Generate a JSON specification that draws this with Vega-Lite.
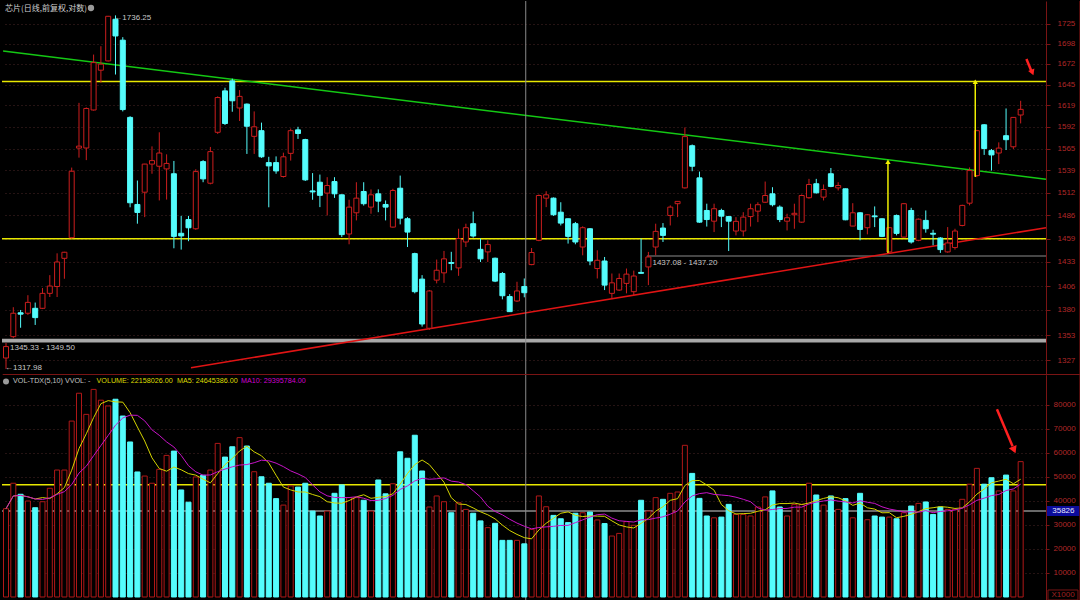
{
"$schema": "https://vega.github.io/schema/vega-lite/v6.json",
"background": "#000000",
"padding": 0,
"spacing": 0,
"bounds": "flush",
"config": {"view": {"stroke": null}, "text": {"font": "Liberation Sans"}},
"datasets": {
"k": [
{"i":0,"o":1329.3,"h":1345,"l":1317.98,"c":1341.2,"v":36800},
{"i":1,"o":1351.6,"h":1383,"l":1350,"c":1376.5,"v":47400},
{"i":2,"o":1377,"h":1380,"l":1361,"c":1375.5,"v":42800},
{"i":3,"o":1376.5,"h":1396,"l":1374.7,"c":1388.2,"v":40000},
{"i":4,"o":1381.8,"h":1388,"l":1364,"c":1371.8,"v":37200},
{"i":5,"o":1381.8,"h":1403.8,"l":1381,"c":1398,"v":39700},
{"i":6,"o":1398,"h":1418,"l":1394,"c":1406,"v":45300},
{"i":7,"o":1405.5,"h":1442.3,"l":1394,"c":1432.6,"v":52900},
{"i":8,"o":1436.7,"h":1444,"l":1414,"c":1443.5,"v":52900},
{"i":9,"o":1460,"h":1542,"l":1459,"c":1537.6,"v":73300},
{"i":10,"o":1565.6,"h":1621.8,"l":1554,"c":1568,"v":84900},
{"i":11,"o":1565.7,"h":1616,"l":1551,"c":1614.7,"v":76100},
{"i":12,"o":1612.8,"h":1684,"l":1612,"c":1673.5,"v":86500},
{"i":13,"o":1663.6,"h":1695,"l":1647.5,"c":1671.4,"v":82000},
{"i":14,"o":1675.7,"h":1735.5,"l":1675,"c":1735,"v":79600},
{"i":15,"o":1731,"h":1736.25,"l":1658,"c":1708.6,"v":82400},
{"i":16,"o":1703,"h":1707,"l":1611,"c":1613.3,"v":75400},
{"i":17,"o":1603.5,"h":1605,"l":1495,"c":1500.3,"v":64600},
{"i":18,"o":1498.3,"h":1526.5,"l":1476,"c":1489,"v":52100},
{"i":19,"o":1512.7,"h":1546.5,"l":1483.6,"c":1546.2,"v":50400},
{"i":20,"o":1546.2,"h":1567.7,"l":1534.6,"c":1550.4,"v":47400},
{"i":21,"o":1543.6,"h":1585,"l":1503,"c":1559.6,"v":53200},
{"i":22,"o":1540.4,"h":1558,"l":1504,"c":1547,"v":59000},
{"i":23,"o":1534.6,"h":1550,"l":1448,"c":1461.5,"v":60800},
{"i":24,"o":1465,"h":1485,"l":1446.5,"c":1462,"v":44600},
{"i":25,"o":1480.8,"h":1485,"l":1456,"c":1471.3,"v":39500},
{"i":26,"o":1470.2,"h":1540,"l":1469,"c":1537.2,"v":50000},
{"i":27,"o":1549.2,"h":1551,"l":1524.5,"c":1528.5,"v":50700},
{"i":28,"o":1523.3,"h":1567,"l":1522,"c":1561.3,"v":52900},
{"i":29,"o":1585,"h":1630,"l":1583,"c":1628.5,"v":64000},
{"i":30,"o":1637,"h":1641,"l":1594,"c":1595.9,"v":58300},
{"i":31,"o":1649.8,"h":1652.7,"l":1610.6,"c":1624.4,"v":62600},
{"i":32,"o":1615.3,"h":1638,"l":1599,"c":1630,"v":66400},
{"i":33,"o":1620.2,"h":1621,"l":1558.5,"c":1592.5,"v":62900},
{"i":34,"o":1580,"h":1611,"l":1558.5,"c":1591.8,"v":52200},
{"i":35,"o":1587,"h":1597,"l":1553.7,"c":1555,"v":50100},
{"i":36,"o":1548,"h":1555,"l":1495,"c":1544,"v":47400},
{"i":37,"o":1548,"h":1555.5,"l":1534.6,"c":1538,"v":41000},
{"i":38,"o":1531.3,"h":1560,"l":1530,"c":1555,"v":38300},
{"i":39,"o":1559.2,"h":1589.6,"l":1550.4,"c":1587,"v":46300},
{"i":40,"o":1588,"h":1591.8,"l":1576.8,"c":1583.5,"v":45800},
{"i":41,"o":1576,"h":1577,"l":1526,"c":1527.3,"v":47400},
{"i":42,"o":1514.2,"h":1535.4,"l":1503.8,"c":1513,"v":35800},
{"i":43,"o":1524.5,"h":1533.6,"l":1495.2,"c":1509,"v":33750},
{"i":44,"o":1511.6,"h":1530.5,"l":1485.5,"c":1520.6,"v":35800},
{"i":45,"o":1525.3,"h":1530.5,"l":1506,"c":1510.8,"v":43200},
{"i":46,"o":1509.6,"h":1510,"l":1460.7,"c":1463.5,"v":46700},
{"i":47,"o":1464.2,"h":1503.8,"l":1452.5,"c":1495.2,"v":41400},
{"i":48,"o":1488.6,"h":1524.5,"l":1479.8,"c":1505.7,"v":41400},
{"i":49,"o":1513.5,"h":1524.5,"l":1497,"c":1499.2,"v":40300},
{"i":50,"o":1495.2,"h":1516,"l":1487.5,"c":1509.6,"v":35800},
{"i":51,"o":1510.8,"h":1516,"l":1489.3,"c":1502.2,"v":48750},
{"i":52,"o":1498.3,"h":1503,"l":1479.8,"c":1495.2,"v":43000},
{"i":53,"o":1472.1,"h":1516.7,"l":1471.4,"c":1514.7,"v":47200},
{"i":54,"o":1517.4,"h":1532.4,"l":1475.2,"c":1482.4,"v":60500},
{"i":55,"o":1481.7,"h":1483.6,"l":1449.4,"c":1466.4,"v":57800},
{"i":56,"o":1442,"h":1443,"l":1398,"c":1399.8,"v":67400},
{"i":57,"o":1413.6,"h":1418,"l":1362.2,"c":1365,"v":52500},
{"i":58,"o":1360.5,"h":1401.6,"l":1358.7,"c":1400.6,"v":37500},
{"i":59,"o":1412.5,"h":1435.3,"l":1408.9,"c":1423.4,"v":42100},
{"i":60,"o":1420.5,"h":1445,"l":1409.5,"c":1436.1,"v":39700},
{"i":61,"o":1432,"h":1444,"l":1423.4,"c":1431,"v":35100},
{"i":62,"o":1426,"h":1470.2,"l":1417.2,"c":1459,"v":39300},
{"i":63,"o":1455.1,"h":1476,"l":1449.4,"c":1471.4,"v":36500},
{"i":64,"o":1476,"h":1490,"l":1460,"c":1461.9,"v":34900},
{"i":65,"o":1446.8,"h":1459,"l":1432.6,"c":1436.1,"v":31700},
{"i":66,"o":1443.9,"h":1457,"l":1432.6,"c":1452.2,"v":28900},
{"i":67,"o":1436.8,"h":1437.5,"l":1410.3,"c":1411.4,"v":30700},
{"i":68,"o":1419.8,"h":1421.5,"l":1391.5,"c":1395.4,"v":23600},
{"i":69,"o":1394.5,"h":1397.2,"l":1378,"c":1378.2,"v":23600},
{"i":70,"o":1389.7,"h":1410.7,"l":1388.6,"c":1400.6,"v":23600},
{"i":71,"o":1405.5,"h":1414.3,"l":1393.7,"c":1398.7,"v":22158},
{"i":72,"o":1429.7,"h":1448.3,"l":1429,"c":1443.2,"v":28200},
{"i":73,"o":1457,"h":1510,"l":1456,"c":1508.8,"v":42100},
{"i":74,"o":1505.7,"h":1513.8,"l":1495.2,"c":1509.6,"v":37600},
{"i":75,"o":1505.7,"h":1506.5,"l":1485,"c":1486.3,"v":34000},
{"i":76,"o":1489.3,"h":1500.9,"l":1474,"c":1476.7,"v":32600},
{"i":77,"o":1481.7,"h":1482,"l":1453.3,"c":1461.5,"v":31000},
{"i":78,"o":1476,"h":1478,"l":1452.5,"c":1455.1,"v":34900},
{"i":79,"o":1449.4,"h":1473,"l":1440.1,"c":1471.4,"v":35100},
{"i":80,"o":1470.2,"h":1471,"l":1429,"c":1433.7,"v":35400},
{"i":81,"o":1425.3,"h":1445.7,"l":1414.3,"c":1434.5,"v":32100},
{"i":82,"o":1433.7,"h":1438.2,"l":1401.6,"c":1407,"v":30600},
{"i":83,"o":1398,"h":1419.8,"l":1392.6,"c":1409.5,"v":25400},
{"i":84,"o":1401.6,"h":1419.8,"l":1400.6,"c":1414.3,"v":26500},
{"i":85,"o":1408.9,"h":1425.3,"l":1398,"c":1419.1,"v":31400},
{"i":86,"o":1399.8,"h":1423,"l":1396,"c":1417,"v":29900},
{"i":87,"o":1421,"h":1459,"l":1419.8,"c":1420,"v":40300},
{"i":88,"o":1427.1,"h":1443.9,"l":1407,"c":1438.2,"v":35800},
{"i":89,"o":1449.4,"h":1476,"l":1440.1,"c":1467.2,"v":41400},
{"i":90,"o":1471,"h":1476.7,"l":1455.1,"c":1462.6,"v":40700},
{"i":91,"o":1485.5,"h":1497.2,"l":1474,"c":1495.2,"v":43200},
{"i":92,"o":1499.2,"h":1502,"l":1483.6,"c":1501.9,"v":43750},
{"i":93,"o":1517.8,"h":1591,"l":1517,"c":1579.7,"v":63200},
{"i":94,"o":1568.5,"h":1570,"l":1537.6,"c":1543.6,"v":51500},
{"i":95,"o":1529.7,"h":1537.2,"l":1477,"c":1477.8,"v":41100},
{"i":96,"o":1491.3,"h":1499.2,"l":1472.7,"c":1480.8,"v":33750},
{"i":97,"o":1478.9,"h":1499.2,"l":1466.4,"c":1493.3,"v":33000},
{"i":98,"o":1491.3,"h":1493.3,"l":1472.1,"c":1484.7,"v":33300},
{"i":99,"o":1484.2,"h":1485,"l":1444.9,"c":1478.9,"v":38600},
{"i":100,"o":1467.6,"h":1483.6,"l":1462.6,"c":1478.7,"v":34400},
{"i":101,"o":1467.6,"h":1489.3,"l":1461.5,"c":1483.6,"v":34400},
{"i":102,"o":1484.2,"h":1499.2,"l":1472.7,"c":1493.3,"v":33750},
{"i":103,"o":1490.5,"h":1500.9,"l":1477.8,"c":1498,"v":37500},
{"i":104,"o":1500.9,"h":1525.3,"l":1500,"c":1508.8,"v":41700},
{"i":105,"o":1510.8,"h":1518.6,"l":1496,"c":1498,"v":44200},
{"i":106,"o":1495.2,"h":1497.2,"l":1477.8,"c":1480.8,"v":37500},
{"i":107,"o":1478.9,"h":1487.5,"l":1468.3,"c":1482.9,"v":33750},
{"i":108,"o":1486.3,"h":1499.2,"l":1470.2,"c":1488,"v":38600},
{"i":109,"o":1477.8,"h":1510,"l":1477,"c":1508.8,"v":38600},
{"i":110,"o":1506.2,"h":1528.5,"l":1505,"c":1521.8,"v":47400},
{"i":111,"o":1522.7,"h":1528.5,"l":1511,"c":1512,"v":42500},
{"i":112,"o":1506.9,"h":1521.8,"l":1503,"c":1515.9,"v":38300},
{"i":113,"o":1534.6,"h":1541.5,"l":1518.6,"c":1519.5,"v":42100},
{"i":114,"o":1517.8,"h":1524.5,"l":1514.7,"c":1520.6,"v":36500},
{"i":115,"o":1516.7,"h":1517,"l":1480,"c":1480.5,"v":41000},
{"i":116,"o":1473.3,"h":1499.8,"l":1473,"c":1488.6,"v":33000},
{"i":117,"o":1488.6,"h":1489.3,"l":1457,"c":1469.4,"v":43200},
{"i":118,"o":1471.4,"h":1487,"l":1463.8,"c":1486.3,"v":32200},
{"i":119,"o":1485,"h":1496,"l":1472.1,"c":1484,"v":33750},
{"i":120,"o":1481.7,"h":1482,"l":1460.7,"c":1461.5,"v":33300},
{"i":121,"o":1443.9,"h":1472,"l":1442.8,"c":1471.4,"v":33300},
{"i":122,"o":1485.5,"h":1486.6,"l":1462.6,"c":1464.9,"v":32600},
{"i":123,"o":1460.7,"h":1500,"l":1460,"c":1499.2,"v":35100},
{"i":124,"o":1491.3,"h":1494.4,"l":1453.3,"c":1455.1,"v":37900},
{"i":125,"o":1457,"h":1482,"l":1456,"c":1481.2,"v":39000},
{"i":126,"o":1479.8,"h":1491.3,"l":1465.7,"c":1470.2,"v":39600},
{"i":127,"o":1465,"h":1469,"l":1451.4,"c":1464,"v":34400},
{"i":128,"o":1459.6,"h":1460.7,"l":1442.8,"c":1446.5,"v":37500},
{"i":129,"o":1443.9,"h":1472.1,"l":1443,"c":1454,"v":36500},
{"i":130,"o":1448.8,"h":1470.2,"l":1446.5,"c":1467.6,"v":36500},
{"i":131,"o":1474,"h":1498,"l":1473,"c":1497.2,"v":40700},
{"i":132,"o":1499.8,"h":1542.2,"l":1497.2,"c":1538.4,"v":47000},
{"i":133,"o":1532.4,"h":1588,"l":1530.5,"c":1587,"v":53600},
{"i":134,"o":1594.3,"h":1595,"l":1557.3,"c":1565.1,"v":47000},
{"i":135,"o":1562.5,"h":1564.5,"l":1538.4,"c":1557.3,"v":49700},
{"i":136,"o":1559.6,"h":1572.6,"l":1546.2,"c":1565.6,"v":44200},
{"i":137,"o":1580.8,"h":1614.7,"l":1563.3,"c":1575.9,"v":50800},
{"i":138,"o":1567.2,"h":1604,"l":1564.5,"c":1603.5,"v":44200},
{"i":139,"o":1606.5,"h":1624.4,"l":1596,"c":1613.6,"v":56400}
],
"levels": [{"p":1649.0},{"p":1458.9}],
"band": [{"p0":1345.33,"p1":1349.5}],
"seg": [{"i0":87.8,"i1":142.47,"p":1439.3}],
"trendG": [{"i":-0.4,"p":1688.6},{"i":142.47,"p":1528.0}],
"trendR": [{"i":25.34,"p":1319.3},{"i":142.47,"p":1471.4}],
"arrows": [{"i":120.82,"p0":1442.8,"p1":1549.0},{"i":132.78,"p0":1530.7,"p1":1648.7}],
"cross": [{"i":71.2}],
"border": [{"i":147.1}],
"sep": [{"i0":-0.45,"i1":147.4,"p":1312.3}],
"redArrowP": [{"i0":139.79,"p0":1678.2,"i1":140.45,"p1":1663.0,"hi":140.6,"hp":1660.6}],
"ptext": [
{"i":14.84,"p":1733.1,"t":"←1736.25"},
{"i":0.55,"p":1340.2,"t":"1345.33 - 1349.50"},
{"i":-0.137,"p":1318.5,"t":"←1317.98"},
{"i":88.56,"p":1431.9,"t":"1437.08 - 1437.20"}
],
"title": [{"i":-0.137,"p":1744.9,"t":"芯片(日线,前复权,对数)"}],
"icons": [{"i":11.64,"p":1746.2}],
"vyellow": [{"v":46800}],
"vgray": [{"v":35826}],
"vtext": [
{"i":0.96,"v":89800,"t":"VOL-TDX(5,10) VVOL: -","g":"a"},
{"i":12.4,"v":89800,"t":"VOLUME: 22158026.00","g":"b"},
{"i":23.42,"v":89800,"t":"MA5: 24645386.00","g":"c"},
{"i":32.19,"v":89800,"t":"MA10: 29395784.00","g":"d"}
],
"vicon": [{"i":0.0,"v":89800}],
"redArrowV": [{"i0":135.75,"v0":78208,"i1":137.89,"v1":62833,"hi":138.1,"hv":61292}],
"lastBox": [{"i0":142.6,"i1":147.1,"v0":33750,"v1":37917,"ic":144.85,"vc":35826,"t":"35826"}],
"unitBox": [{"i0":142.74,"i1":146.85,"v0":-1250,"v1":2917,"ic":144.8,"vc":833,"t":"X1000"}]
},
"vconcat": [
{
"width": 1044, "height": 374,
"layer": [
{"data": {"name": "band"}, "mark": {"type": "rect", "color": "#a8a8a8"},
 "encoding": {"y": {"field": "p0", "type": "quantitative", "scale": {"type": "log", "domain": [1311.8, 1755.8], "nice": false}}, "y2": {"field": "p1"}}},
{"data": {"name": "levels"}, "mark": {"type": "rule", "color": "#e8e800", "strokeWidth": 1.5},
 "encoding": {"y": {"field": "p", "type": "quantitative", "scale": {"type": "log", "domain": [1311.8, 1755.8], "nice": false}}}},
{"data": {"name": "seg"}, "mark": {"type": "rule", "color": "#8c8c8c", "strokeWidth": 1},
 "encoding": {"x": {"field": "i0", "type": "quantitative", "scale": {"domain": [-0.548, 142.47], "nice": false, "zero": false, "padding": 0}, "axis": null}, "x2": {"field": "i1"},
  "y": {"field": "p", "type": "quantitative", "scale": {"type": "log", "domain": [1311.8, 1755.8], "nice": false}}}},
{"data": {"name": "trendG"}, "mark": {"type": "line", "strokeWidth": 1.5, "color": "#14c814"},
 "encoding": {"x": {"field": "i", "type": "quantitative", "scale": {"domain": [-0.548, 142.47], "nice": false, "zero": false, "padding": 0}, "axis": null},
  "y": {"field": "p", "type": "quantitative", "scale": {"type": "log", "domain": [1311.8, 1755.8], "nice": false}}}},
{"data": {"name": "trendR"}, "mark": {"type": "line", "strokeWidth": 1.5, "color": "#e01414"},
 "encoding": {"x": {"field": "i", "type": "quantitative", "scale": {"domain": [-0.548, 142.47], "nice": false, "zero": false, "padding": 0}, "axis": null},
  "y": {"field": "p", "type": "quantitative", "scale": {"type": "log", "domain": [1311.8, 1755.8], "nice": false}}}},
{"data": {"name": "cross"}, "mark": {"type": "rule", "color": "#8a8a8a", "strokeWidth": 1},
 "encoding": {"x": {"field": "i", "type": "quantitative", "scale": {"domain": [-0.548, 142.47], "nice": false, "zero": false, "padding": 0}, "axis": null}}},
{"data": {"name": "k"}, "mark": {"type": "rule", "strokeWidth": 1},
 "encoding": {"x": {"field": "i", "type": "quantitative", "scale": {"domain": [-0.548, 142.47], "nice": false, "zero": false, "padding": 0}, "axis": null},
  "y": {"field": "l", "type": "quantitative", "scale": {"type": "log", "domain": [1311.8, 1755.8], "nice": false},
   "axis": {"orient": "right", "title": null, "values": [1327,1353,1380,1406,1433,1459,1486,1512,1539,1565,1592,1619,1645,1672,1698,1725], "format": "d",
    "labelOverlap": false, "labelFlush": false, "grid": true, "gridColor": "#4a2626", "gridDash": [1, 3], "gridWidth": 1,
    "domainColor": "#7a1414", "tickColor": "#7a1414", "tickSize": 4, "labelColor": "#b02828", "labelFontSize": 8, "labelPadding": 7, "labelFont": "Liberation Sans"}},
  "y2": {"field": "h"},
  "stroke": {"condition": {"test": "datum.c >= datum.o", "value": "#cc1e1e"}, "value": "#54fcfc"}}},
{"data": {"name": "k"}, "mark": {"type": "bar", "size": 5, "strokeWidth": 1},
 "encoding": {"x": {"field": "i", "type": "quantitative", "scale": {"domain": [-0.548, 142.47], "nice": false, "zero": false, "padding": 0}, "axis": null},
  "y": {"field": "o", "type": "quantitative", "scale": {"type": "log", "domain": [1311.8, 1755.8], "nice": false}},
  "y2": {"field": "c"},
  "fill": {"condition": {"test": "datum.c >= datum.o", "value": "#000000"}, "value": "#54fcfc"},
  "stroke": {"condition": {"test": "datum.c >= datum.o", "value": "#cc1e1e"}, "value": "#54fcfc"}}},
{"data": {"name": "arrows"}, "mark": {"type": "rule", "color": "#f0f000", "strokeWidth": 1.5},
 "encoding": {"x": {"field": "i", "type": "quantitative", "scale": {"domain": [-0.548, 142.47], "nice": false, "zero": false, "padding": 0}, "axis": null},
  "y": {"field": "p0", "type": "quantitative", "scale": {"type": "log", "domain": [1311.8, 1755.8], "nice": false}}, "y2": {"field": "p1"}}},
{"data": {"name": "arrows"}, "mark": {"type": "point", "shape": "triangle-up", "filled": true, "color": "#f0f000", "size": 28, "opacity": 1},
 "encoding": {"x": {"field": "i", "type": "quantitative", "scale": {"domain": [-0.548, 142.47], "nice": false, "zero": false, "padding": 0}, "axis": null},
  "y": {"field": "p1", "type": "quantitative", "scale": {"type": "log", "domain": [1311.8, 1755.8], "nice": false}}}},
{"data": {"name": "redArrowP"}, "mark": {"type": "rule", "color": "#ff2020", "strokeWidth": 2.5},
 "encoding": {"x": {"field": "i0", "type": "quantitative", "scale": {"domain": [-0.548, 142.47], "nice": false, "zero": false, "padding": 0}, "axis": null}, "x2": {"field": "i1"},
  "y": {"field": "p0", "type": "quantitative", "scale": {"type": "log", "domain": [1311.8, 1755.8], "nice": false}}, "y2": {"field": "p1"}}},
{"data": {"name": "redArrowP"}, "mark": {"type": "point", "shape": "triangle-down", "filled": true, "color": "#ff2020", "size": 45, "angle": -22, "opacity": 1},
 "encoding": {"x": {"field": "hi", "type": "quantitative", "scale": {"domain": [-0.548, 142.47], "nice": false, "zero": false, "padding": 0}, "axis": null},
  "y": {"field": "hp", "type": "quantitative", "scale": {"type": "log", "domain": [1311.8, 1755.8], "nice": false}}}},
{"data": {"name": "ptext"}, "mark": {"type": "text", "align": "left", "baseline": "middle", "fontSize": 8, "color": "#c8c8c8", "font": "Liberation Sans"},
 "encoding": {"x": {"field": "i", "type": "quantitative", "scale": {"domain": [-0.548, 142.47], "nice": false, "zero": false, "padding": 0}, "axis": null},
  "y": {"field": "p", "type": "quantitative", "scale": {"type": "log", "domain": [1311.8, 1755.8], "nice": false}},
  "text": {"field": "t"}}},
{"data": {"name": "title"}, "mark": {"type": "text", "align": "left", "baseline": "middle", "fontSize": 8, "color": "#d0d0d0", "font": "Noto Sans CJK SC"},
 "encoding": {"x": {"field": "i", "type": "quantitative", "scale": {"domain": [-0.548, 142.47], "nice": false, "zero": false, "padding": 0}, "axis": null},
  "y": {"field": "p", "type": "quantitative", "scale": {"type": "log", "domain": [1311.8, 1755.8], "nice": false}},
  "text": {"field": "t"}}},
{"data": {"name": "icons"}, "mark": {"type": "point", "shape": "circle", "filled": true, "color": "#9a9a9a", "size": 40, "opacity": 1},
 "encoding": {"x": {"field": "i", "type": "quantitative", "scale": {"domain": [-0.548, 142.47], "nice": false, "zero": false, "padding": 0}, "axis": null},
  "y": {"field": "p", "type": "quantitative", "scale": {"type": "log", "domain": [1311.8, 1755.8], "nice": false}}}},
{"data": {"name": "border"}, "mark": {"type": "rule", "color": "#6e1010", "strokeWidth": 1},
 "encoding": {"x": {"field": "i", "type": "quantitative", "scale": {"domain": [-0.548, 142.47], "nice": false, "zero": false, "padding": 0}, "axis": null}}},
{"data": {"name": "sep"}, "mark": {"type": "rule", "color": "#7a1414", "strokeWidth": 1},
 "encoding": {"x": {"field": "i0", "type": "quantitative", "scale": {"domain": [-0.548, 142.47], "nice": false, "zero": false, "padding": 0}, "axis": null}, "x2": {"field": "i1"},
  "y": {"field": "p", "type": "quantitative", "scale": {"type": "log", "domain": [1311.8, 1755.8], "nice": false}}}}
]
},
{
"width": 1044, "height": 226,
"resolve": {"axis": {"y": "independent"}},
"layer": [
{"data": {"name": "vyellow"}, "mark": {"type": "rule", "strokeWidth": 1.5, "color": "#e8e800"},
 "encoding": {"y": {"field": "v", "type": "quantitative", "scale": {"domain": [-1667, 92500], "nice": false, "zero": false},
   "axis": {"orient": "right", "title": null, "values": [10000,20000,30000,40000,50000,60000,70000,80000], "format": "d",
    "labelOverlap": false, "labelFlush": false, "grid": true, "gridColor": "#4a2626", "gridDash": [1, 3], "gridWidth": 1,
    "domainColor": "#7a1414", "tickColor": "#7a1414", "tickSize": 3, "labelColor": "#b02828", "labelFontSize": 8, "labelPadding": 4, "labelFont": "Liberation Sans"}}}},
{"data": {"name": "vgray"}, "mark": {"type": "rule", "strokeWidth": 1.5, "color": "#8c8c8c"},
 "encoding": {"y": {"field": "v", "type": "quantitative", "scale": {"domain": [-1667, 92500], "nice": false, "zero": false}, "axis": null}}},
{"data": {"name": "cross"}, "mark": {"type": "rule", "color": "#8a8a8a", "strokeWidth": 1},
 "encoding": {"x": {"field": "i", "type": "quantitative", "scale": {"domain": [-0.548, 142.47], "nice": false, "zero": false, "padding": 0}, "axis": null}}},
{"data": {"name": "k"}, "mark": {"type": "bar", "size": 5, "strokeWidth": 1},
 "encoding": {"x": {"field": "i", "type": "quantitative", "scale": {"domain": [-0.548, 142.47], "nice": false, "zero": false, "padding": 0}, "axis": null},
  "y": {"field": "v", "type": "quantitative", "scale": {"domain": [-1667, 92500], "nice": false, "zero": false}, "axis": null},
  "y2": {"datum": 0},
  "fill": {"condition": {"test": "datum.c >= datum.o", "value": "#000000"}, "value": "#54fcfc"},
  "stroke": {"condition": {"test": "datum.c >= datum.o", "value": "#b01818"}, "value": "#54fcfc"}}},
{"data": {"name": "k"},
 "transform": [{"window": [{"op": "mean", "field": "v", "as": "ma5"}], "frame": [-4, 0], "sort": [{"field": "i"}]}],
 "mark": {"type": "line", "color": "#d4d400", "strokeWidth": 1},
 "encoding": {"x": {"field": "i", "type": "quantitative", "scale": {"domain": [-0.548, 142.47], "nice": false, "zero": false, "padding": 0}, "axis": null},
  "y": {"field": "ma5", "type": "quantitative", "scale": {"domain": [-1667, 92500], "nice": false, "zero": false}, "axis": null}}},
{"data": {"name": "k"},
 "transform": [{"window": [{"op": "mean", "field": "v", "as": "ma10"}], "frame": [-9, 0], "sort": [{"field": "i"}]}],
 "mark": {"type": "line", "color": "#c814c8", "strokeWidth": 1},
 "encoding": {"x": {"field": "i", "type": "quantitative", "scale": {"domain": [-0.548, 142.47], "nice": false, "zero": false, "padding": 0}, "axis": null},
  "y": {"field": "ma10", "type": "quantitative", "scale": {"domain": [-1667, 92500], "nice": false, "zero": false}, "axis": null}}},
{"data": {"name": "redArrowV"}, "mark": {"type": "rule", "color": "#ff2020", "strokeWidth": 2.5},
 "encoding": {"x": {"field": "i0", "type": "quantitative", "scale": {"domain": [-0.548, 142.47], "nice": false, "zero": false, "padding": 0}, "axis": null}, "x2": {"field": "i1"},
  "y": {"field": "v0", "type": "quantitative", "scale": {"domain": [-1667, 92500], "nice": false, "zero": false}, "axis": null}, "y2": {"field": "v1"}}},
{"data": {"name": "redArrowV"}, "mark": {"type": "point", "shape": "triangle-down", "filled": true, "color": "#ff2020", "size": 70, "angle": -23, "opacity": 1},
 "encoding": {"x": {"field": "hi", "type": "quantitative", "scale": {"domain": [-0.548, 142.47], "nice": false, "zero": false, "padding": 0}, "axis": null},
  "y": {"field": "hv", "type": "quantitative", "scale": {"domain": [-1667, 92500], "nice": false, "zero": false}, "axis": null}}},
{"data": {"name": "vicon"}, "mark": {"type": "point", "shape": "circle", "filled": true, "color": "#9a9a9a", "size": 36, "opacity": 1},
 "encoding": {"x": {"field": "i", "type": "quantitative", "scale": {"domain": [-0.548, 142.47], "nice": false, "zero": false, "padding": 0}, "axis": null},
  "y": {"field": "v", "type": "quantitative", "scale": {"domain": [-1667, 92500], "nice": false, "zero": false}, "axis": null}}},
{"data": {"name": "vtext"}, "transform": [{"filter": "datum.g == 'a'"}], "mark": {"type": "text", "align": "left", "baseline": "middle", "fontSize": 7.2, "font": "Liberation Sans", "color": "#c0c0c0"},
 "encoding": {"x": {"field": "i", "type": "quantitative", "scale": {"domain": [-0.548, 142.47], "nice": false, "zero": false, "padding": 0}, "axis": null},
  "y": {"field": "v", "type": "quantitative", "scale": {"domain": [-1667, 92500], "nice": false, "zero": false}, "axis": null}, "text": {"field": "t"}}},
{"data": {"name": "vtext"}, "transform": [{"filter": "datum.g == 'b' || datum.g == 'c'"}], "mark": {"type": "text", "align": "left", "baseline": "middle", "fontSize": 7.2, "font": "Liberation Sans", "color": "#dcdc00"},
 "encoding": {"x": {"field": "i", "type": "quantitative", "scale": {"domain": [-0.548, 142.47], "nice": false, "zero": false, "padding": 0}, "axis": null},
  "y": {"field": "v", "type": "quantitative", "scale": {"domain": [-1667, 92500], "nice": false, "zero": false}, "axis": null}, "text": {"field": "t"}}},
{"data": {"name": "vtext"}, "transform": [{"filter": "datum.g == 'd'"}], "mark": {"type": "text", "align": "left", "baseline": "middle", "fontSize": 7.2, "font": "Liberation Sans", "color": "#d000d0"},
 "encoding": {"x": {"field": "i", "type": "quantitative", "scale": {"domain": [-0.548, 142.47], "nice": false, "zero": false, "padding": 0}, "axis": null},
  "y": {"field": "v", "type": "quantitative", "scale": {"domain": [-1667, 92500], "nice": false, "zero": false}, "axis": null}, "text": {"field": "t"}}},
{"data": {"name": "lastBox"}, "mark": {"type": "rect", "color": "#0c0c9c"},
 "encoding": {"x": {"field": "i0", "type": "quantitative", "scale": {"domain": [-0.548, 142.47], "nice": false, "zero": false, "padding": 0}, "axis": null}, "x2": {"field": "i1"},
  "y": {"field": "v0", "type": "quantitative", "scale": {"domain": [-1667, 92500], "nice": false, "zero": false}, "axis": null}, "y2": {"field": "v1"}}},
{"data": {"name": "lastBox"}, "mark": {"type": "text", "align": "center", "baseline": "middle", "fontSize": 8, "color": "#e8e8ff", "font": "Liberation Sans"},
 "encoding": {"x": {"field": "ic", "type": "quantitative", "scale": {"domain": [-0.548, 142.47], "nice": false, "zero": false, "padding": 0}, "axis": null},
  "y": {"field": "vc", "type": "quantitative", "scale": {"domain": [-1667, 92500], "nice": false, "zero": false}, "axis": null}, "text": {"field": "t"}}},
{"data": {"name": "unitBox"}, "mark": {"type": "rect", "fill": "#000000", "stroke": "#7a1414", "strokeWidth": 1},
 "encoding": {"x": {"field": "i0", "type": "quantitative", "scale": {"domain": [-0.548, 142.47], "nice": false, "zero": false, "padding": 0}, "axis": null}, "x2": {"field": "i1"},
  "y": {"field": "v0", "type": "quantitative", "scale": {"domain": [-1667, 92500], "nice": false, "zero": false}, "axis": null}, "y2": {"field": "v1"}}},
{"data": {"name": "unitBox"}, "mark": {"type": "text", "align": "center", "baseline": "middle", "fontSize": 8, "color": "#a02020", "font": "Liberation Sans"},
 "encoding": {"x": {"field": "ic", "type": "quantitative", "scale": {"domain": [-0.548, 142.47], "nice": false, "zero": false, "padding": 0}, "axis": null},
  "y": {"field": "vc", "type": "quantitative", "scale": {"domain": [-1667, 92500], "nice": false, "zero": false}, "axis": null}, "text": {"field": "t"}}},
{"data": {"name": "border"}, "mark": {"type": "rule", "color": "#6e1010", "strokeWidth": 1},
 "encoding": {"x": {"field": "i", "type": "quantitative", "scale": {"domain": [-0.548, 142.47], "nice": false, "zero": false, "padding": 0}, "axis": null}}}
]
}
]
}
